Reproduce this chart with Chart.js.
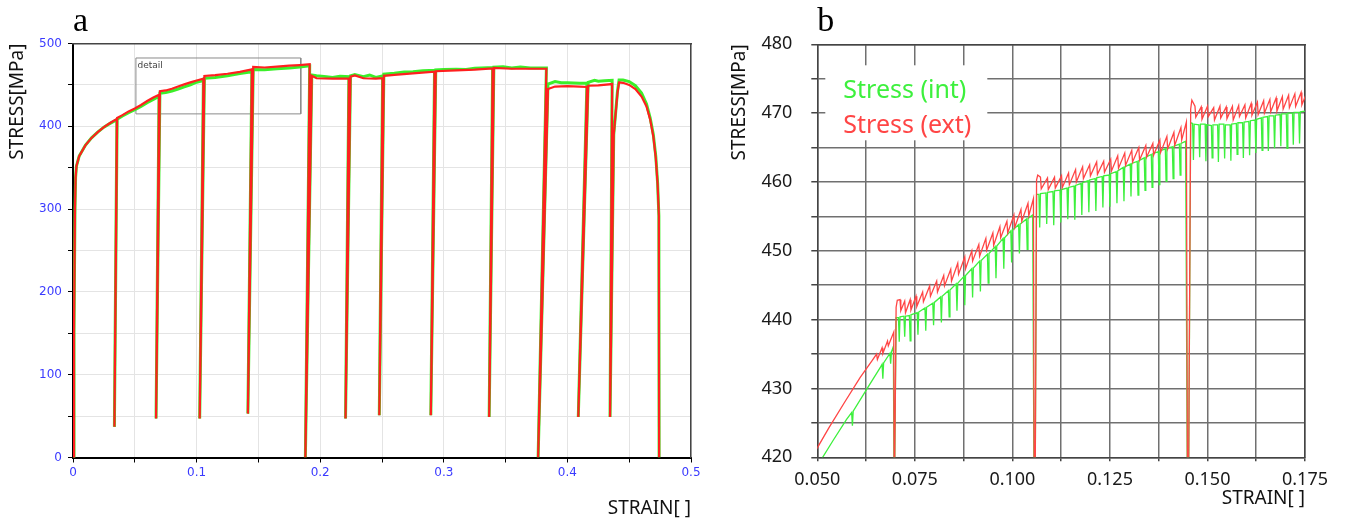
<!DOCTYPE html>
<html>
<head>
<meta charset="utf-8">
<script src="https://cdn.jsdelivr.net/npm/chart.js@4.4.1/dist/chart.umd.min.js"></script>
<style>
  html, body { margin: 0; padding: 0; background: #fff; }
  body { width: 1347px; height: 523px; position: relative; overflow: hidden; }
  #chartA { position: absolute; left: 0; top: 0; }
  #chartB { position: absolute; left: 725px; top: 0; }
</style>
</head>
<body>
<canvas id="chartA" width="725" height="523"></canvas>
<canvas id="chartB" width="622" height="523"></canvas>
<script>
// ---- data, panel a (full test) ----
var seriesNames = ["Stress (int)", "Stress (ext)"];
var xTickLabelsA = [0, 0.1, 0.2, 0.3, 0.4, 0.5];
var yTickLabelsA = [0, 100, 200, 300, 400, 500];

// [strain, stress]
var curveA_ext = [
  [0, 0], [0.0008, 150], [0.0016, 300], [0.0021, 338], [0.0028, 352], [0.005, 364], [0.01, 377],
  [0.015, 386], [0.02, 393], [0.025, 399], [0.03, 404], [0.0355, 409],
  [0.0335, 37], [0.0357, 410],
  [0.04, 413.5], [0.045, 418], [0.05, 421.5], [0.055, 425.8], [0.06, 430.5], [0.065, 434.8], [0.0696, 438.2],
  [0.0672, 47], [0.0703, 442.5],
  [0.075, 443.3], [0.08, 445.4], [0.085, 448], [0.09, 450.6], [0.095, 453], [0.1, 455.3], [0.1055, 457.6],
  [0.1025, 47], [0.1063, 460.8],
  [0.115, 461.8], [0.125, 463.5], [0.135, 465.8], [0.1447, 468.8],
  [0.1415, 53], [0.1458, 471.8],
  [0.155, 471], [0.165, 472], [0.175, 473.2], [0.1835, 474], [0.1915, 475],
  [0.188, 0], [0.1932, 461], [0.197, 458], [0.21, 457.5], [0.2232, 457.5],
  [0.2205, 47], [0.2245, 460], [0.228, 461.5], [0.235, 458], [0.245, 457.5], [0.2505, 458],
  [0.2478, 51], [0.2515, 461], [0.26, 462], [0.275, 464], [0.2925, 466],
  [0.2895, 51], [0.2935, 466.5], [0.31, 467.5], [0.325, 468.5], [0.3395, 470],
  [0.3367, 49], [0.3405, 470.5], [0.355, 469.5], [0.37, 469.5], [0.383, 469.5],
  [0.3763, 0], [0.3843, 445], [0.39, 448], [0.40, 448.5], [0.41, 448], [0.4158, 447.5],
  [0.4088, 49], [0.4168, 449], [0.425, 449.5], [0.4362, 451],
  [0.4345, 49], [0.4375, 390], [0.4405, 440], [0.4418, 453],
  [0.445, 452.5], [0.45, 450], [0.455, 445], [0.46, 436], [0.464, 424], [0.467, 408],
  [0.4695, 388], [0.4715, 362], [0.473, 330], [0.474, 292], [0.4742, 0]
];
var curveA_int = [
  [0, 0], [0.0008, 150], [0.0016, 300], [0.0021, 338], [0.0028, 352], [0.005, 364], [0.01, 377],
  [0.015, 386], [0.02, 393], [0.025, 399], [0.03, 403.5], [0.0355, 408],
  [0.0335, 37], [0.0357, 408.5],
  [0.04, 412.5], [0.045, 416.5], [0.05, 420], [0.055, 424], [0.06, 428.5], [0.065, 432.5], [0.0696, 436],
  [0.0672, 47], [0.0703, 440],
  [0.075, 440.8], [0.08, 442.6], [0.085, 445], [0.09, 447.6], [0.095, 450.2], [0.1, 453.3], [0.1055, 455.2],
  [0.1025, 47], [0.1063, 458],
  [0.115, 459], [0.125, 461], [0.135, 463.8], [0.1447, 465.8],
  [0.1415, 53], [0.1458, 468.5],
  [0.155, 468.3], [0.165, 469.5], [0.175, 470.5], [0.1835, 471.5], [0.1915, 473],
  [0.188, 0], [0.1932, 462], [0.197, 461], [0.205, 460], [0.21, 459], [0.216, 460.5], [0.2232, 460],
  [0.2205, 47], [0.2245, 461], [0.228, 462.5], [0.235, 460], [0.24, 462], [0.245, 459], [0.2505, 461],
  [0.2478, 51], [0.2515, 463], [0.26, 464], [0.268, 465.5], [0.275, 466], [0.283, 467], [0.2925, 467.5],
  [0.2895, 51], [0.2935, 468], [0.30, 468.5], [0.31, 469], [0.318, 468.5], [0.325, 470], [0.3395, 471],
  [0.3367, 49], [0.3405, 471.5], [0.348, 472], [0.355, 470.5], [0.362, 471.5], [0.37, 470.5], [0.383, 470.5],
  [0.3763, 0], [0.3843, 451], [0.39, 454], [0.395, 452.5], [0.40, 452.5], [0.41, 452], [0.4158, 452],
  [0.4088, 49], [0.4168, 453], [0.422, 455.5], [0.425, 454.5], [0.43, 455], [0.4362, 455.5],
  [0.4345, 49], [0.4375, 390], [0.4405, 442], [0.4418, 456],
  [0.445, 456], [0.45, 454], [0.455, 449], [0.46, 440], [0.464, 427], [0.467, 410],
  [0.4695, 390], [0.4715, 364], [0.473, 331], [0.474, 292], [0.4742, 0]
];
// the "detail" frame = range of panel b
var detailBox = [[0.0509, 482.5], [0.1843, 482.5], [0.1843, 415], [0.0509, 415], [0.0509, 482.5]];

// ---- data, panel b (detail) ----
var xTickLabelsB = [0.05, 0.075, 0.1, 0.125, 0.15, 0.175];
var yTickLabelsB = [420, 430, 440, 450, 460, 470, 480];

var curveB_ext = [
  [0.0490, 420.4], [0.0530, 424.3], [0.0570, 428.0], [0.0610, 431.6], [0.0640, 434.0],
  [0.0652, 435.0], [0.0654, 434.2], [0.0666, 435.9], [0.0668, 435.1], [0.0680, 436.9], [0.0682, 436.2], [0.0696, 438.2],
  [0.0697, 410.0], [0.0699, 410.0], [0.0702, 441.8], [0.0705, 442.8],
  [0.0712, 442.9], [0.0714, 441.3], [0.0724, 442.7], [0.0726, 441.0], [0.0738, 442.9], [0.0740, 441.4],
  [0.0753, 443.4], [0.0755, 441.9], [0.0770, 444.0], [0.0772, 442.6], [0.0788, 444.9], [0.0790, 443.4],
  [0.0806, 445.6], [0.0808, 444.0], [0.0824, 446.4], [0.0826, 444.9], [0.0842, 447.3], [0.0844, 445.6],
  [0.0860, 448.2], [0.0862, 446.6], [0.0878, 449.1], [0.0880, 447.4], [0.0896, 450.0], [0.0898, 448.5],
  [0.0914, 450.9], [0.0916, 449.2], [0.0932, 451.8], [0.0934, 450.1], [0.0950, 452.6], [0.0952, 450.8],
  [0.0968, 453.5], [0.0970, 451.9], [0.0986, 454.3], [0.0988, 452.6], [0.1004, 455.2], [0.1006, 453.4],
  [0.1022, 456.0], [0.1024, 454.3], [0.1040, 456.9], [0.1042, 455.1], [0.1054, 457.6],
  [0.1056, 410.0], [0.1058, 410.0], [0.1062, 460.3], [0.1065, 461.0],
  [0.1072, 460.7], [0.1074, 459.0], [0.1090, 460.6], [0.1092, 458.9], [0.1108, 460.7], [0.1110, 459.1],
  [0.1126, 460.9], [0.1128, 459.2], [0.1144, 461.3], [0.1146, 459.6], [0.1162, 461.8], [0.1164, 460.0],
  [0.1180, 462.2], [0.1182, 460.5], [0.1198, 462.5], [0.1200, 460.9], [0.1216, 462.9], [0.1218, 461.1],
  [0.1234, 463.0], [0.1236, 461.4], [0.1252, 463.3], [0.1254, 461.6], [0.1270, 463.8], [0.1272, 462.0],
  [0.1288, 464.2], [0.1290, 462.4], [0.1306, 464.6], [0.1308, 462.9], [0.1324, 465.0], [0.1326, 463.2],
  [0.1342, 465.3], [0.1344, 463.6], [0.1360, 465.6], [0.1362, 463.9], [0.1378, 466.1], [0.1380, 464.3],
  [0.1396, 466.6], [0.1398, 464.8], [0.1414, 467.2], [0.1416, 465.3], [0.1432, 467.9], [0.1434, 466.1],
  [0.1446, 468.7],
  [0.1449, 410.0], [0.1451, 410.0], [0.1457, 470.6], [0.1460, 471.9],
  [0.1468, 471.0], [0.1470, 469.4], [0.1484, 470.9], [0.1486, 469.1], [0.1500, 471.0], [0.1502, 469.5],
  [0.1516, 470.8], [0.1518, 469.0], [0.1532, 471.0], [0.1534, 469.3], [0.1548, 470.9], [0.1550, 469.2],
  [0.1564, 471.0], [0.1566, 469.0], [0.1580, 471.1], [0.1582, 469.5], [0.1596, 471.2], [0.1598, 469.3],
  [0.1612, 471.4], [0.1614, 469.7], [0.1628, 471.6], [0.1630, 469.8], [0.1644, 471.8], [0.1646, 470.0],
  [0.1660, 472.0], [0.1662, 470.2], [0.1676, 472.2], [0.1678, 470.3], [0.1692, 472.4], [0.1694, 470.6],
  [0.1708, 472.6], [0.1710, 470.8], [0.1724, 472.8], [0.1726, 471.0], [0.1740, 473.0], [0.1742, 471.2],
  [0.1756, 473.2]
];
var curveB_int = [
  [0.0505, 419.2], [0.0540, 422.4], [0.0575, 425.5], [0.0588, 426.5], [0.0590, 424.6], [0.0592, 426.7],
  [0.0630, 430.2], [0.0662, 433.1], [0.0666, 433.5], [0.0668, 431.4], [0.0670, 433.7],
  [0.0686, 435.1], [0.0688, 433.6], [0.0690, 435.3], [0.0695, 436.1],
  [0.0697, 410.0], [0.0699, 410.0], [0.0702, 440.3],
  [0.0708, 440.3], [0.0710, 436.8], [0.0712, 440.4], [0.0722, 440.5], [0.0724, 437.5], [0.0726, 440.5],
  [0.0736, 440.6], [0.0738, 436.9], [0.0740, 440.7], [0.0756, 441.0], [0.0758, 437.8], [0.0760, 441.1],
  [0.0776, 441.7], [0.0778, 438.4], [0.0780, 441.8], [0.0796, 442.4], [0.0798, 439.2], [0.0800, 442.5],
  [0.0816, 443.3], [0.0818, 439.6], [0.0820, 443.4], [0.0836, 444.2], [0.0838, 440.4], [0.0840, 444.3],
  [0.0856, 445.2], [0.0858, 441.3], [0.0860, 445.3], [0.0876, 446.3], [0.0878, 442.1], [0.0880, 446.4],
  [0.0896, 447.4], [0.0898, 443.2], [0.0900, 447.5], [0.0916, 448.5], [0.0918, 444.1], [0.0920, 448.6],
  [0.0936, 449.5], [0.0938, 445.3], [0.0940, 449.6], [0.0956, 450.6], [0.0958, 446.0], [0.0960, 450.7],
  [0.0976, 451.8], [0.0978, 447.4], [0.0980, 451.9], [0.0996, 452.9], [0.0998, 448.3], [0.1000, 453.0],
  [0.1016, 453.8], [0.1018, 449.6], [0.1020, 453.9], [0.1036, 454.6], [0.1038, 450.2], [0.1040, 454.7],
  [0.1052, 455.2],
  [0.1056, 410.0], [0.1058, 410.0], [0.1062, 458.2],
  [0.1068, 458.2], [0.1070, 453.4], [0.1072, 458.3], [0.1086, 458.4], [0.1088, 453.9], [0.1090, 458.5],
  [0.1104, 458.6], [0.1106, 453.7], [0.1108, 458.7], [0.1122, 458.8], [0.1124, 454.1], [0.1126, 458.9],
  [0.1140, 459.1], [0.1142, 454.6], [0.1144, 459.2], [0.1158, 459.4], [0.1160, 454.5], [0.1162, 459.5],
  [0.1176, 459.8], [0.1178, 455.2], [0.1180, 459.9], [0.1194, 460.2], [0.1196, 455.6], [0.1198, 460.3],
  [0.1212, 460.5], [0.1214, 455.8], [0.1216, 460.6], [0.1230, 460.8], [0.1232, 456.3], [0.1234, 460.9],
  [0.1248, 461.0], [0.1250, 456.4], [0.1252, 461.2], [0.1266, 461.5], [0.1268, 456.9], [0.1270, 461.6],
  [0.1284, 462.1], [0.1286, 457.2], [0.1288, 462.2], [0.1302, 462.6], [0.1304, 457.9], [0.1306, 462.7],
  [0.1320, 463.0], [0.1322, 458.1], [0.1324, 463.1], [0.1338, 463.5], [0.1340, 458.8], [0.1342, 463.6],
  [0.1356, 464.0], [0.1358, 459.2], [0.1360, 464.1], [0.1374, 464.4], [0.1376, 459.6], [0.1378, 464.5],
  [0.1392, 464.8], [0.1394, 460.1], [0.1396, 464.9], [0.1410, 465.1], [0.1412, 460.5], [0.1414, 465.2],
  [0.1428, 465.5], [0.1430, 461.0], [0.1432, 465.6], [0.1444, 465.9],
  [0.1449, 410.0], [0.1451, 410.0], [0.1457, 468.6],
  [0.1462, 468.5], [0.1464, 463.2], [0.1466, 468.4], [0.1478, 468.3], [0.1480, 463.6], [0.1482, 468.4],
  [0.1494, 468.4], [0.1496, 463.0], [0.1498, 468.3], [0.1510, 468.2], [0.1512, 463.5], [0.1514, 468.3],
  [0.1526, 468.3], [0.1528, 462.9], [0.1530, 468.4], [0.1542, 468.4], [0.1544, 463.4], [0.1546, 468.3],
  [0.1558, 468.3], [0.1560, 463.1], [0.1562, 468.4], [0.1574, 468.5], [0.1576, 464.0], [0.1578, 468.6],
  [0.1590, 468.6], [0.1592, 463.5], [0.1594, 468.7], [0.1606, 468.8], [0.1608, 463.9], [0.1610, 468.9],
  [0.1622, 469.0], [0.1624, 464.2], [0.1626, 469.1], [0.1638, 469.3], [0.1640, 464.6], [0.1642, 469.4],
  [0.1654, 469.5], [0.1656, 464.5], [0.1658, 469.6], [0.1670, 469.6], [0.1672, 464.9], [0.1674, 469.7],
  [0.1686, 469.8], [0.1688, 465.2], [0.1690, 469.9], [0.1702, 469.9], [0.1704, 464.9], [0.1706, 470.0],
  [0.1718, 470.0], [0.1720, 465.4], [0.1722, 470.1], [0.1734, 470.1], [0.1736, 465.6], [0.1738, 470.2],
  [0.1750, 470.3]
];

function toXY(pts) {
  return pts.map(function (p) { return { x: p[0], y: p[1] }; });
}
function hasLabel(list, v, digits) {
  return list.some(function (t) { return Math.abs(t - v) < Math.pow(10, -digits); });
}

// small text inside the detail frame
var detailLabel = {
  id: 'detailLabel',
  afterDatasetsDraw: function (chart) {
    var ctx = chart.ctx, x = chart.scales.x, y = chart.scales.y;
    ctx.save();
    ctx.font = '9px "DejaVu Sans"';
    ctx.fillStyle = '#444';
    ctx.textBaseline = 'middle';
    ctx.fillText('detail', x.getPixelForValue(detailBox[0][0]) + 1.5, y.getPixelForValue(detailBox[0][1]) + 7.5);
    ctx.restore();
  }
};

// legend box sitting inside the plot of panel b
var insideLegend = {
  id: 'insideLegend',
  afterDatasetsDraw: function (chart) {
    var ctx = chart.ctx, area = chart.chartArea;
    var x0 = area.left + 8, y0 = area.top + 21;
    ctx.save();
    ctx.fillStyle = '#fff';
    ctx.fillRect(x0, y0, 162, 75);
    ctx.font = '25px "Noto Sans"';
    ctx.textBaseline = 'alphabetic';
    chart.data.datasets.forEach(function (ds, i) {
      ctx.fillStyle = ds.borderColor;
      ctx.fillText(ds.label, x0 + 18, y0 + 33 + i * 35);
    });
    ctx.restore();
  }
};

var frameAxis = function (pos, min, max, color) {
  return {
    type: 'linear', position: pos, min: min, max: max,
    ticks: { display: false },
    grid: { drawOnChartArea: false, drawTicks: false },
    border: { color: color, width: 1.5 },
    afterFit: function (s) { if (pos === 'top') s.height = 0; else s.width = 0; }
  };
};

// ---------- panel a ----------
new Chart('chartA', {
  type: 'line',
  data: {
    datasets: [
      { label: seriesNames[1], data: toXY(curveA_ext), borderColor: '#ff1f1f', borderWidth: 2.2, order: 0 },
      { label: seriesNames[0], data: toXY(curveA_int), borderColor: '#3bef2a', borderWidth: 3, order: 1 },
      { label: 'detail', data: toXY(detailBox), borderColor: '#8a8a8a', borderWidth: 1, order: 2 }
    ]
  },
  options: {
    responsive: false,
    animation: false,
    elements: { point: { radius: 0 }, line: { tension: 0 } },
    layout: { padding: { left: 0, right: 34, top: 0, bottom: 0 } },
    plugins: {
      legend: { display: false },
      tooltip: { enabled: false },
      title: {
        display: true, text: 'a', align: 'start', fullSize: false, color: '#000',
        font: { family: 'Liberation Serif', size: 34, weight: 'normal' },
        padding: { top: 2, bottom: 0.7 }
      }
    },
    scales: {
      x: {
        type: 'linear', position: 'bottom', min: 0, max: 0.5,
        ticks: {
          stepSize: 0.05, autoSkip: false, maxRotation: 0, color: '#3a3aff', padding: 3,
          font: { family: 'DejaVu Sans', size: 12 },
          callback: function (v) { return hasLabel(xTickLabelsA, v, 4) ? String(+v.toFixed(1)) : ''; }
        },
        grid: { color: '#e4e4e4', tickColor: '#000', tickLength: 5 },
        border: { color: '#000', width: 2 },
        title: {
          display: true, text: 'STRAIN[ ]', align: 'end', color: '#111',
          font: { family: 'Noto Sans', size: 19 }, padding: { top: 0, bottom: 2.6 }
        },
        afterFit: function (s) { s.height = 65.5; }
      },
      y: {
        type: 'linear', position: 'left', min: 0, max: 500,
        ticks: {
          stepSize: 50, autoSkip: false, color: '#3a3aff', padding: 6,
          font: { family: 'DejaVu Sans', size: 12 },
          callback: function (v) { return hasLabel(yTickLabelsA, v, 3) ? String(v) : ''; }
        },
        grid: { color: '#e4e4e4', tickColor: '#000', tickLength: 5 },
        border: { color: '#000', width: 2 },
        title: {
          display: true, text: 'STRESS[MPa]', align: 'end', color: '#111',
          font: { family: 'Noto Sans', size: 19 }, padding: { top: 6, bottom: 0 }
        },
        afterFit: function (s) { s.width = 73; }
      },
      x2: frameAxis('top', 0, 0.5, '#444'),
      y2: frameAxis('right', 0, 500, '#444')
    }
  },
  plugins: [detailLabel]
});

// ---------- panel b ----------
new Chart('chartB', {
  type: 'line',
  data: {
    datasets: [
      { label: seriesNames[0], data: toXY(curveB_int), borderColor: '#3df03d', borderWidth: 1.3, order: 1 },
      { label: seriesNames[1], data: toXY(curveB_ext), borderColor: '#ff4545', borderWidth: 1.3, order: 0 }
    ]
  },
  options: {
    responsive: false,
    animation: false,
    elements: { point: { radius: 0 }, line: { tension: 0 } },
    layout: { padding: { left: 0, right: 42, top: 0, bottom: 0 } },
    plugins: {
      legend: { display: false },
      tooltip: { enabled: false },
      title: {
        display: true, text: 'b', align: 'start', fullSize: false, color: '#000',
        font: { family: 'Liberation Serif', size: 34, weight: 'normal' },
        padding: { top: 2, bottom: 1.5 }
      }
    },
    scales: {
      x: {
        type: 'linear', position: 'bottom', min: 0.05, max: 0.175,
        ticks: {
          stepSize: 0.0125, autoSkip: false, maxRotation: 0, color: '#1a1a1a', padding: 8,
          font: { family: 'Noto Sans', size: 18 },
          callback: function (v) { return hasLabel(xTickLabelsB, v, 5) ? v.toFixed(3) : ''; }
        },
        grid: { color: '#707070', lineWidth: 1.5, tickColor: '#444', tickLength: 4 },
        border: { color: '#444', width: 1.5 },
        title: {
          display: true, text: 'STRAIN[ ]', align: 'end', color: '#111',
          font: { family: 'Noto Sans', size: 19 }, padding: { top: 0, bottom: 13 }
        },
        afterFit: function (s) { s.height = 65.7; }
      },
      y: {
        type: 'linear', position: 'left', min: 420, max: 480,
        ticks: {
          stepSize: 5, autoSkip: false, color: '#1a1a1a', padding: 19,
          font: { family: 'Noto Sans', size: 18 },
          callback: function (v) { return hasLabel(yTickLabelsB, v, 3) ? String(v) : ''; }
        },
        grid: { color: '#707070', lineWidth: 1.5, tickColor: '#444', tickLength: 6 },
        border: { color: '#444', width: 1.5 },
        title: {
          display: true, text: 'STRESS[MPa]', align: 'end', color: '#111',
          font: { family: 'Noto Sans', size: 19 }, padding: { top: 3, bottom: 0 }
        },
        afterFit: function (s) { s.width = 92.3; }
      },
      x2: frameAxis('top', 0.05, 0.175, '#444'),
      y2: frameAxis('right', 420, 480, '#444')
    }
  },
  plugins: [insideLegend]
});
</script>
</body>
</html>
